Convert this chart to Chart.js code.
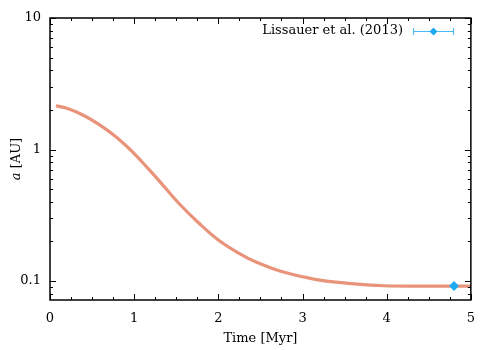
<!DOCTYPE html>
<html>
<head>
<meta charset="utf-8">
<script src="https://cdn.jsdelivr.net/npm/chart.js@4.4.1/dist/chart.umd.min.js"></script>
<style>
  html, body { margin: 0; padding: 0; background: #fff; }
  #wrap { width: 486px; height: 350px; position: relative; }
</style>
</head>
<body>
<div id="wrap"><canvas id="chart" width="486" height="350"></canvas></div>
<script>
// migration track: time [Myr] vs semi-major axis [AU]
const timeMyr = [0.07, 0.2, 0.39, 0.59, 0.79, 0.98, 1.18, 1.30, 1.53, 1.77, 2.0, 2.24, 2.44, 2.75, 3.15, 3.54, 3.97, 4.5, 5.0];
const semiAxis = [2.15, 2.06, 1.83, 1.54, 1.24, 0.96, 0.70, 0.575, 0.39, 0.275, 0.205, 0.163, 0.14, 0.118, 0.103, 0.096, 0.092, 0.0915, 0.0915];

const obsTime = [4.8];
const obsA = [0.0915];
const obsLabel = "Lissauer et al. (2013)";

const xTicks = [0, 1, 2, 3, 4, 5];
const yTicks = [0.1, 1, 10];

const FONT = "'DejaVu Serif', 'Liberation Serif', serif";
const FSIZE = 13;
const LINE_COLOR = "#e8937a";
const OBS_COLOR = "#1fa9f2";
const BAR_COLOR = "#45bbf6";

function diamond(ctx, x, y, r, color) {
  ctx.save();
  ctx.fillStyle = color;
  ctx.beginPath();
  ctx.moveTo(x, y - r);
  ctx.lineTo(x + r, y);
  ctx.lineTo(x, y + r);
  ctx.lineTo(x - r, y);
  ctx.closePath();
  ctx.fill();
  ctx.restore();
}

// inward ticks on all four sides, frame, and the key
const framePlugin = {
  id: "frame",
  afterDatasetsDraw(chart) {
    const { ctx, chartArea: a, scales } = chart;
    const xs = scales.x, ys = scales.y;
    ctx.save();
    ctx.strokeStyle = "#000";
    ctx.lineWidth = 1;

    // x ticks (major every 1, minor every 0.25)
    for (let v = 0; v <= 5.0001; v += 0.25) {
      const px = Math.round(xs.getPixelForValue(v)) + 0.5;
      const major = Math.abs(v - Math.round(v)) < 1e-6;
      const len = major ? 6 : 3;
      ctx.beginPath();
      ctx.moveTo(px, a.bottom); ctx.lineTo(px, a.bottom - len);
      ctx.moveTo(px, a.top); ctx.lineTo(px, a.top + len);
      ctx.stroke();
    }
    // y ticks (log)
    for (let dec = 0.01; dec <= 10; dec *= 10) {
      for (let m = 1; m <= 9; m++) {
        const v = dec * m;
        if (v < ys.min - 1e-9 || v > ys.max + 1e-9) continue;
        const py = Math.round(ys.getPixelForValue(v)) + 0.5;
        const len = m === 1 ? 6 : 3;
        ctx.beginPath();
        ctx.moveTo(a.left, py); ctx.lineTo(a.left + len, py);
        ctx.moveTo(a.right, py); ctx.lineTo(a.right - len, py);
        ctx.stroke();
      }
    }

    // frame
    ctx.lineWidth = 1.5;
    ctx.strokeRect(a.left, a.top, a.right - a.left, a.bottom - a.top);

    // key
    const ky = a.top + 13;
    ctx.fillStyle = "#000";
    ctx.font = FSIZE + "px " + FONT;
    ctx.textAlign = "right";
    ctx.textBaseline = "middle";
    ctx.fillText(obsLabel, a.left + 353, ky);
    const x0 = a.left + 363, x1 = a.left + 404;
    ctx.strokeStyle = BAR_COLOR;
    ctx.lineWidth = 1;
    ctx.beginPath();
    ctx.moveTo(x0, ky + 0.5); ctx.lineTo(x1, ky + 0.5);
    ctx.moveTo(x0 + 0.5, ky - 3); ctx.lineTo(x0 + 0.5, ky + 4);
    ctx.moveTo(x1 - 0.5, ky - 3); ctx.lineTo(x1 - 0.5, ky + 4);
    ctx.stroke();
    diamond(ctx, (x0 + x1) / 2, ky + 0.5, 4, OBS_COLOR);

    ctx.restore();
  }
};

// y title with italic "a"
const titlePlugin = {
  id: "ytitle",
  afterDraw(chart) {
    const { ctx, chartArea: a } = chart;
    ctx.save();
    ctx.translate(17, (a.top + a.bottom) / 2);
    ctx.rotate(-Math.PI / 2);
    ctx.fillStyle = "#000";
    ctx.textBaseline = "middle";
    ctx.textAlign = "left";
    ctx.font = "italic " + FSIZE + "px " + FONT;
    const wa = ctx.measureText("a ").width;
    ctx.font = FSIZE + "px " + FONT;
    const wr = ctx.measureText("[AU]").width;
    const start = -(wa + wr) / 2;
    ctx.font = "italic " + FSIZE + "px " + FONT;
    ctx.fillText("a", start, 0);
    ctx.font = FSIZE + "px " + FONT;
    ctx.fillText("[AU]", start + wa, 0);
    ctx.restore();
  }
};

new Chart(document.getElementById("chart"), {
  type: "scatter",
  data: {
    datasets: [
      {
        label: "track",
        data: timeMyr.map((t, i) => ({ x: t, y: semiAxis[i] })),
        showLine: true,
        borderColor: LINE_COLOR,
        borderWidth: 3.2,
        pointRadius: 0,
        tension: 0.4,
        order: 2
      },
      {
        label: obsLabel,
        data: obsTime.map((t, i) => ({ x: t, y: obsA[i] })),
        showLine: false,
        pointStyle: "rectRot",
        pointRadius: 5,
        backgroundColor: OBS_COLOR,
        borderColor: OBS_COLOR,
        borderWidth: 0,
        order: 1
      }
    ]
  },
  options: {
    responsive: false,
    animation: false,
    layout: { padding: { top: 18, right: 12, left: 0, bottom: 0 } },
    plugins: { legend: { display: false }, tooltip: { enabled: false } },
    scales: {
      x: {
        type: "linear",
        min: 0, max: 5,
        afterBuildTicks: s => { s.ticks = xTicks.map(v => ({ value: v })); },
        afterFit: s => { s.height = 50; },
        grid: { display: false, drawTicks: false },
        border: { display: false },
        ticks: { color: "#000", padding: 11, font: { family: FONT, size: FSIZE }, maxRotation: 0 },
        title: { display: true, text: "Time [Myr]", color: "#000", font: { family: FONT, size: FSIZE }, padding: { top: 3 } }
      },
      y: {
        type: "logarithmic",
        min: 0.0717, max: 10,
        afterBuildTicks: s => { s.ticks = yTicks.map(v => ({ value: v })); },
        afterFit: s => { s.width = 50; },
        grid: { display: false, drawTicks: false },
        border: { display: false },
        ticks: {
          color: "#000", padding: 9, font: { family: FONT, size: FSIZE },
          callback: v => String(v)
        }
      }
    }
  },
  plugins: [framePlugin, titlePlugin]
});
</script>
</body>
</html>
